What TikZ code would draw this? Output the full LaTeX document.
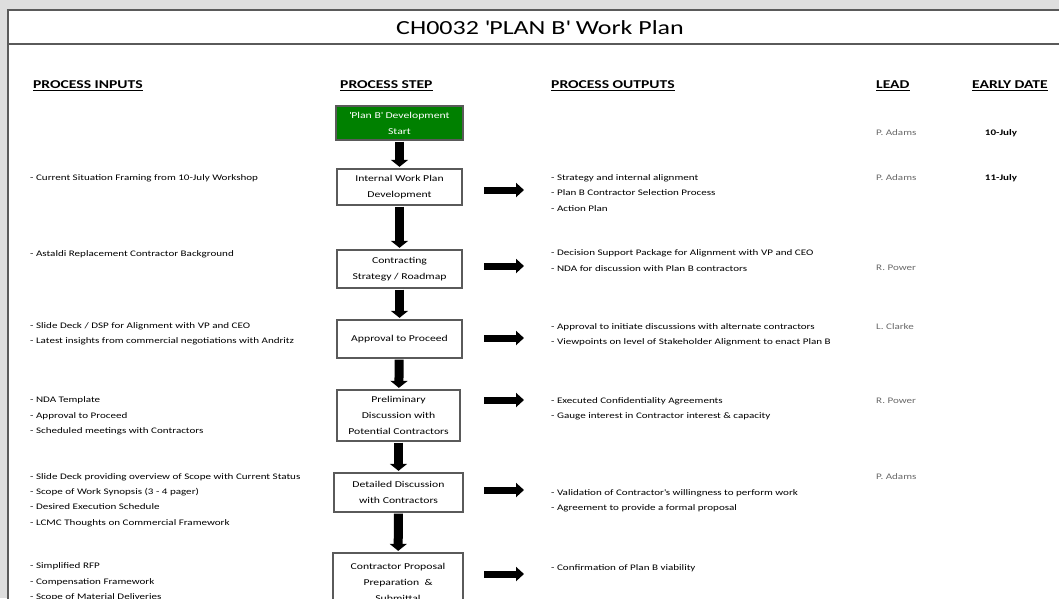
\documentclass[tikz,border=0pt]{standalone}
\usepackage{fontspec}
\setmainfont{Carlito}[FakeStretch=1.3]
\usetikzlibrary{arrows.meta}
\definecolor{pgreen}{RGB}{0,128,0}
\definecolor{framegray}{RGB}{90,90,90}
\definecolor{leadgray}{RGB}{105,105,105}
\definecolor{bggray}{RGB}{222,222,222}
\newcommand{\sq}{\textquotesingle}
\begin{document}
\begin{tikzpicture}[x=1pt,y=-1pt,
  txt/.style={font=\fontsize{8.5}{15.3}\selectfont, align=left, inner sep=0pt, anchor=west},
  hdr/.style={font=\fontsize{12}{14}\selectfont\bfseries, inner sep=0pt, anchor=west},
  lead/.style={font=\fontsize{8.5}{10}\selectfont, text=leadgray, inner sep=0pt, anchor=west},
  datec/.style={font=\fontsize{8.5}{10}\selectfont\bfseries, inner sep=0pt},
  stepbox/.style={draw=framegray, line width=1.3pt, fill=white, align=center,
    font=\fontsize{9}{16}\selectfont, inner sep=1pt},
  startbox/.style={stepbox, fill=pgreen, text=white},
  downarr/.style={line width=9pt, -{Triangle[width=17pt,length=7pt]}, shorten >=1.5pt, shorten <=1pt},
  rightarr/.style={line width=7pt, -{Triangle[width=14pt,length=8pt]}}]
\useasboundingbox (0,0) rectangle (1059,598);
\fill[bggray] (0,0) rectangle (1059,598);
\draw[framegray, line width=1.5pt, fill=white] (8,10) rectangle (1075,620);
\draw[framegray, line width=1.5pt] (8,44) -- (1075,44);
\node[font=\fontsize{20}{24}\selectfont, inner sep=0pt] (title) at (540,28) {CH0032 \sq PLAN B\sq\ Work Plan};

% headers
\node[hdr] (h1) at (33,86) {\underline{PROCESS INPUTS}};
\node[hdr] (h2) at (340,86) {\underline{PROCESS STEP}};
\node[hdr] (h3) at (551,86) {\underline{PROCESS OUTPUTS}};
\node[hdr] (h4) at (876,86) {\underline{LEAD}};
\node[hdr] (h5) at (972,86) {\underline{EARLY DATE}};

% process steps
\node[startbox, minimum width=127, minimum height=34] (s0) at (399.5,123) {\sq Plan B\sq\ Development\\Start};
\node[stepbox, minimum width=125, minimum height=36] (s1) at (399.5,187) {Internal Work Plan\\Development};
\node[stepbox, minimum width=125, minimum height=38] (s2) at (399.5,269) {Contracting\\Strategy / Roadmap};
\node[stepbox, minimum width=125, minimum height=38] (s3) at (399.5,339) {Approval to Proceed};
\node[stepbox, minimum width=123, minimum height=51] (s4) at (398.5,415.5) {Preliminary\\Discussion with\\Potential Contractors};
\node[stepbox, minimum width=129, minimum height=39] (s5) at (398.5,492.5) {Detailed Discussion\\with Contractors};
\node[stepbox, minimum width=130, minimum height=59] (s6) at (398,582.5) {Contractor Proposal\\Preparation \ \&\\Submittal};

\draw[downarr] (s0) -- (s1);
\draw[downarr] (s1) -- (s2);
\draw[downarr] (s2) -- (s3);
\draw[downarr] (s3) -- (s4);
\draw[downarr] (s4) -- (s5);
\draw[downarr] (s5) -- (s6);

% right arrows
\foreach \i/\yy in {1/190, 2/266, 3/338, 4/400, 5/490, 6/574}{
  \coordinate (ra\i) at (484,\yy);
  \coordinate (rb\i) at (524,\yy);
  \draw[rightarr] (ra\i) -- (rb\i);
}

% inputs
\node[txt] (in1) at (30,178) {- Current Situation Framing from 10-July Workshop};
\node[txt] (in2) at (30,254) {- Astaldi Replacement Contractor Background};
\node[txt] (in3) at (30,334) {- Slide Deck / DSP for Alignment with VP and CEO\\- Latest insights from commercial negotiations with Andritz};
\node[txt] (in4) at (30,416) {- NDA Template\\- Approval to Proceed\\- Scheduled meetings with Contractors};
\node[txt] (in5) at (30,500) {- Slide Deck providing overview of Scope with Current Status\\- Scope of Work Synopsis (3 - 4 pager)\\- Desired Execution Schedule\\- LCMC Thoughts on Commercial Framework};
\node[txt] (in6) at (30,582) {- Simplified RFP\\- Compensation Framework\\- Scope of Material Deliveries};

% outputs
\node[txt] (out1) at (551,193) {- Strategy and internal alignment\\- Plan B Contractor Selection Process\\- Action Plan};
\node[txt] (out2) at (551,260.5) {- Decision Support Package for Alignment with VP and CEO\\- NDA for discussion with Plan B contractors};
\node[txt] (out3) at (551,334.5) {- Approval to initiate discussions with alternate contractors\\- Viewpoints on level of Stakeholder Alignment to enact Plan B};
\node[txt] (out4) at (551,408.5) {- Executed Confidentiality Agreements\\- Gauge interest in Contractor interest \& capacity};
\node[txt] (out5) at (551,500.5) {- Validation of Contractor\sq s willingness to perform work\\- Agreement to provide a formal proposal};
\node[txt] (out6) at (551,568) {- Confirmation of Plan B viability};

% leads
\node[lead] (l0) at (876,133) {P. Adams};
\node[lead] (l1) at (876,178) {P. Adams};
\node[lead] (l2) at (876,268) {R. Power};
\node[lead] (l3) at (876,327) {L. Clarke};
\node[lead] (l4) at (876,401) {R. Power};
\node[lead] (l5) at (876,477) {P. Adams};

% dates
\node[datec] (d0) at (1001,133) {10-July};
\node[datec] (d1) at (1001,178) {11-July};
\end{tikzpicture}
\end{document}
